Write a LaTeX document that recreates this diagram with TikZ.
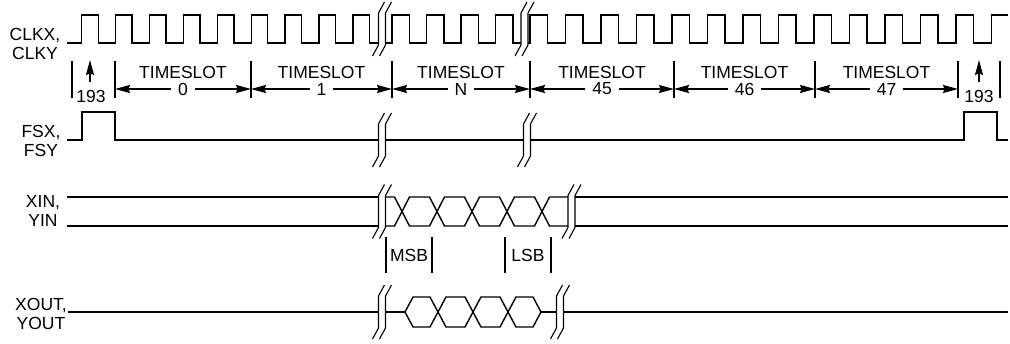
\documentclass[tikz,border=0pt]{standalone}
\usepackage{fontspec}
\setmainfont{Liberation Sans}
\usetikzlibrary{arrows.meta}
\begin{document}
\begin{tikzpicture}[x=1pt,y=-1pt,
  sig/.style={line width=1.4pt, line join=miter, line cap=butt},
  heavysig/.style={line width=2.8pt, line cap=butt},
  brkline/.style={line width=1.1pt, line join=miter},
  tickline/.style={line width=1.1pt},
  dimarrow/.style={line width=1.1pt, {Stealth[length=15pt,width=8pt,inset=1.5pt]}-{Stealth[length=15pt,width=8pt,inset=1.5pt]}},
  uparrow/.style={line width=1.1pt, -{Stealth[length=15pt,width=8pt,inset=1.5pt]}},
  lbl/.style={font=\fontsize{17.5}{19}\selectfont, inner sep=0pt, align=center},
  num/.style={font=\fontsize{17.5}{19}\selectfont, fill=white, inner xsep=7pt, inner ysep=1pt},
  breakmark/.pic={
    \foreach \dx in {-3.5,3.5}
      \draw[brkline] (\dx-6,27) -- (\dx,16) -- (\dx,-16) -- (\dx+6,-27);
  }
]
\useasboundingbox (0,0) rectangle (1010,343);

% ---------------- labels on the left
\node[lbl] (clk)  at (35,44)  {CLKX,\\CLKY};
\node[lbl] (fs)   at (41,141) {FSX,\\FSY};
\node[lbl] (xin)  at (43,211) {XIN,\\YIN};
\node[lbl] (xout) at (41,314) {XOUT,\\YOUT};

% ---------------- clock
\draw[sig] (67,43) foreach \k in {0,...,8} {
   -- ({81.7+33.9*\k},43) -- ({81.7+33.9*\k},15) -- ({98.2+33.9*\k},15) -- ({98.2+33.9*\k},43) }
   -- (378.5,43);
\draw[sig] (385.5,43) foreach \k in {0,...,3} {
   -- ({392+34.5*\k},43) -- ({392+34.5*\k},15) -- ({409.5+34.5*\k},15) -- ({409.5+34.5*\k},43) }
   -- (521,43);
\draw[sig] (528,43) foreach \k in {0,...,12} {
   -- ({530+35.5*\k},43) -- ({530+35.5*\k},15) -- ({547.5+35.5*\k},15) -- ({547.5+35.5*\k},43) }
   -- (991.5,43) -- (991.5,15) -- (1008,15);
\pic at (382,29) {breakmark};
\pic at (524.5,29) {breakmark};

% ---------------- timeslot markers and arrows
\foreach \x/\n in {72/m0,115/m1,251/m2,392/m3,530/m4,674/m5,815/m6,958/m7,1000/m8}{
  \draw[tickline] (\x,61) -- (\x,98);
  \coordinate (\n) at (\x,89);
}
\draw[dimarrow] (m1) -- (m2) node[midway,num] (s0) {0};
\draw[dimarrow] (m2) -- (m3) node[midway,num] (s1) {1};
\draw[dimarrow] (m3) -- (m4) node[midway,num] (sN) {N};
\draw[dimarrow] (m4) -- (m5) node[midway,num] (s45) {45};
\draw[dimarrow] (m5) -- (m6) node[midway,num] (s46) {46};
\draw[dimarrow] (m6) -- (m7) node[midway,num] (s47) {47};
\foreach \x/\n in {183/t0,321.5/t1,461/tN,602/t45,744.5/t46,886.5/t47}
  \node[lbl] (\n) at (\x,72) {TIMESLOT};

% 193 markers
\node[lbl] (fa) at (91,96) {193};
\node[lbl] (fb) at (979,96) {193};
\coordinate (fa1) at (90,82); \coordinate (fa2) at (90,60);
\coordinate (fb1) at (979,82); \coordinate (fb2) at (979,60);
\draw[uparrow] (fa1) -- (fa2);
\draw[uparrow] (fb1) -- (fb2);

% ---------------- frame sync
\draw[sig] (67,140) -- (82,140) -- (82,112) -- (115,112) -- (115,140) -- (378.5,140);
\draw[sig] (385.5,140) -- (523.5,140);
\draw[sig] (530.5,140) -- (964,140) -- (964,112) -- (997,112) -- (997,140) -- (1008,140);
\pic at (382,140) {breakmark};
\pic at (527,140) {breakmark};

% ---------------- XIN / YIN
\draw[sig] (67,197) -- (378.5,197);
\draw[sig] (67,226) -- (378.5,226);
\draw[sig] (385.5,197) -- (394.5,197) -- (409.5,226) -- (429.5,226) -- (444.5,197) -- (464.5,197)
  -- (479.5,226) -- (499.5,226) -- (514.5,197) -- (534.5,197) -- (549.5,226) -- (568,226);
\draw[sig] (385.5,226) -- (394.5,226) -- (409.5,197) -- (429.5,197) -- (444.5,226) -- (464.5,226)
  -- (479.5,197) -- (499.5,197) -- (514.5,226) -- (534.5,226) -- (549.5,197) -- (568,197);
\draw[sig] (575,197) -- (1008,197);
\draw[sig] (575,226) -- (1008,226);
\pic at (382,211.5) {breakmark};
\pic at (571.5,211.5) {breakmark};

% MSB / LSB
\foreach \x in {386,432,505,551} \draw[tickline] (\x,237) -- (\x,273);
\node[lbl] (msb) at (409,255) {MSB};
\node[lbl] (lsb) at (528,255) {LSB};

% ---------------- XOUT / YOUT
\draw[sig] (68,312) -- (378.5,312);
\draw[sig] (385.5,312) -- (405,312);
\draw[sig] (405,312) -- (413,297) -- (430,297) -- (446,327) -- (465,327) -- (481,297) -- (500,297)
  -- (516,327) -- (533,327) -- (541,312);
\draw[sig] (405,312) -- (413,327) -- (430,327) -- (446,297) -- (465,297) -- (481,327) -- (500,327)
  -- (516,297) -- (533,297) -- (541,312);
\draw[heavysig] (541,312) -- (556.5,312);
\draw[sig] (563.5,312) -- (1008,312);
\pic at (382,312) {breakmark};
\pic at (560,312) {breakmark};
\end{tikzpicture}
\end{document}
